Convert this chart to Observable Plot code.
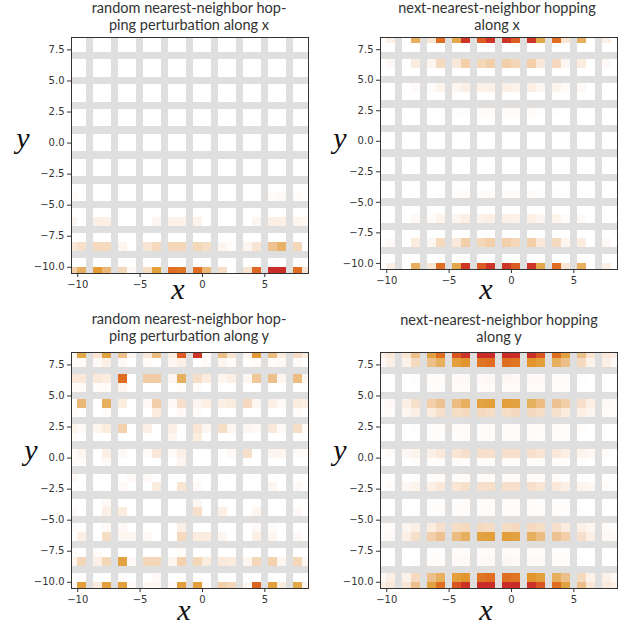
<!DOCTYPE html>
<html><head><meta charset="utf-8">
<script src="https://cdn.jsdelivr.net/npm/d3@7"></script>
<script src="https://cdn.jsdelivr.net/npm/@observablehq/plot@0.6"></script>
<style>
body{margin:0;background:#fff;}
#root{position:relative;width:639px;height:630px;overflow:hidden;background:#fff;}
.p{position:absolute;}
#over{position:absolute;left:0;top:0;}
</style></head>
<body><div id="root"></div>
<script>
// lattice block centres (each block holds 2x2 sub-sites)
const blockX = [-10, -8, -6, -4, -2, 0, 2, 4, 6, 8];
const blockY = [8, 6, 4, 2, 0, -2, -4, -6, -8, -10];
const xTicks = [-10, -5, 0, 5];
const yTicks = [-10, -7.5, -5, -2.5, 0, 2.5, 5, 7.5];

const titles = [
  ["random nearest-neighbor hop-", "ping perturbation along x"],
  ["next-nearest-neighbor hopping", "along x"],
  ["random nearest-neighbor hop-", "ping perturbation along y"],
  ["next-nearest-neighbor hopping", "along y"]
];

// values: 20 sub-rows (top to bottom) x 20 sub-columns (left to right)
const Z = [0,0,0,0,0,0,0,0,0,0,0,0,0,0,0,0,0,0,0,0];
const p1 = [
  Z, Z, Z, Z, Z, Z, Z, Z, Z, Z, Z, Z, Z,
  [0.02,0,0,0,0,0,0,0,0,0,0,0,0,0,0,0,0.02,0.03,0.02,0],
  Z,
  [0.05,0,0.08,0.08,0,0,0,0.04,0.07,0.07,0.07,0,0,0,0,0.05,0.08,0.08,0.06,0.04],
  Z,
  [0.12,0.18,0.22,0.22,0.05,0,0.15,0.22,0.25,0.25,0.25,0.2,0.05,0.02,0.05,0.15,0.38,0.48,0.25,0],
  Z,
  [0.3,0.5,0.62,0.45,0.25,0.03,0.2,0.6,0.75,0.73,0.75,0.45,0.2,0,0.15,0.77,0.95,0.95,0.75,0.15]
];
const p2 = [
  [0,0.08,0,0.5,0.15,0.75,0.55,0.92,0.8,0.92,0.92,0.8,0.92,0.55,0.75,0.15,0.5,0,0.08,0],
  Z,
  [0,0.03,0,0.1,0.05,0.22,0.12,0.3,0.25,0.3,0.3,0.25,0.3,0.12,0.22,0.05,0.1,0,0.03,0],
  Z,
  [0,0,0,0.03,0.02,0.06,0.05,0.08,0.07,0.08,0.08,0.07,0.08,0.05,0.06,0.02,0.03,0,0,0],
  Z,
  [0,0,0,0,0,0.01,0.01,0.02,0.02,0.02,0.02,0.02,0.02,0.01,0.01,0,0,0,0,0],
  Z, Z, Z, Z, Z, Z,
  [0,0,0,0,0,0.01,0.01,0.02,0.02,0.02,0.02,0.02,0.02,0.01,0.01,0,0,0,0,0],
  Z,
  [0,0,0,0.03,0.02,0.06,0.05,0.08,0.07,0.08,0.08,0.07,0.08,0.05,0.06,0.02,0.03,0,0,0],
  Z,
  [0,0.03,0,0.1,0.05,0.22,0.12,0.3,0.25,0.3,0.3,0.25,0.3,0.12,0.22,0.05,0.1,0,0.03,0],
  Z,
  [0,0.08,0,0.5,0.15,0.75,0.55,0.92,0.8,0.92,0.92,0.8,0.92,0.55,0.75,0.15,0.5,0,0.08,0]
];
const p3 = [
  [0.05,0.55,0.15,0.58,0.4,0.05,0.12,0.42,0.1,0.8,0.92,0.03,0.4,0.15,0.05,0.62,0.42,0.1,0.2,0.1],
  [0.02,0.02,0.03,0.08,0.03,0,0.02,0,0.04,0.08,0,0.02,0.05,0.02,0,0.02,0.02,0.03,0.02,0],
  [0.12,0.12,0.12,0.1,0.75,0,0.32,0.32,0.05,0.5,0.2,0.1,0.05,0.08,0.05,0.35,0.4,0.05,0.42,0.05],
  [0.02,0.02,0.02,0.02,0.05,0,0,0,0,0.02,0.02,0,0,0,0,0,0,0,0,0],
  [0,0.45,0,0.5,0.1,0,0.03,0.3,0.03,0.18,0.05,0.08,0.08,0.1,0.22,0.05,0.08,0.03,0.1,0.08],
  [0.02,0,0,0.02,0,0,0,0.1,0,0.03,0.02,0,0,0,0,0,0,0,0.02,0],
  [0.06,0.03,0.06,0.1,0.28,0,0.08,0,0.08,0,0.15,0.05,0.2,0.05,0.05,0.03,0.12,0.03,0.2,0.02],
  [0.02,0,0,0,0,0,0,0,0.05,0,0.1,0,0,0,0,0,0,0,0,0],
  [0.02,0.05,0,0.08,0.03,0,0.02,0.12,0.02,0.08,0,0,0,0.03,0.18,0,0.05,0.05,0.02,0.02],
  [0.02,0.02,0,0.03,0,0,0,0,0,0.05,0,0,0,0,0,0,0,0,0,0],
  [0.03,0,0,0,0,0.03,0.03,0,0,0,0,0,0,0,0,0,0,0,0,0],
  [0,0,0,0,0.03,0,0,0.1,0,0.15,0.03,0,0,0,0,0,0.05,0,0.03,0],
  [0,0,0,0.03,0,0,0,0,0,0,0.05,0,0,0,0,0,0,0,0,0],
  [0.03,0,0,0.08,0.1,0,0,0,0,0,0.18,0,0.08,0,0,0.05,0,0,0.03,0],
  [0.02,0,0,0.03,0.03,0,0,0,0,0.08,0,0,0,0,0,0.03,0.02,0,0,0],
  [0,0.08,0,0.2,0.05,0.05,0.03,0,0,0.22,0.1,0.1,0.05,0,0,0.08,0.05,0,0.03,0],
  [0.02,0,0.02,0,0,0,0,0,0,0.02,0,0,0,0,0,0,0,0,0,0],
  [0.05,0.25,0.08,0.25,0.58,0.03,0.25,0.25,0.05,0.28,0.25,0.1,0.12,0.1,0.05,0.25,0.28,0.05,0.25,0.05],
  [0,0,0,0,0.02,0,0,0.03,0,0,0,0,0,0,0,0,0,0,0,0],
  [0.03,0.6,0.1,0.6,0.6,0.03,0.05,0.05,0.03,0.6,0.6,0.03,0.3,0.25,0.05,0.78,0.6,0.1,0.55,0.05]
];
const p4 = [
  [0.08,0.12,0.15,0.4,0.58,0.75,0.82,0.93,0.95,0.95,0.95,0.95,0.93,0.82,0.75,0.58,0.4,0.15,0.12,0.08],
  [0.03,0.08,0.07,0.22,0.4,0.5,0.6,0.65,0.73,0.75,0.75,0.73,0.65,0.6,0.5,0.4,0.22,0.07,0.08,0.03],
  [0,0,0,0.01,0.02,0.02,0.03,0.03,0.03,0.04,0.04,0.03,0.03,0.03,0.02,0.02,0.01,0,0,0],
  [0,0,0,0,0.01,0.01,0.02,0.02,0.02,0.02,0.02,0.02,0.02,0.02,0.01,0.01,0,0,0,0],
  [0.02,0.03,0.08,0.18,0.3,0.38,0.42,0.5,0.58,0.6,0.6,0.58,0.5,0.42,0.38,0.3,0.18,0.08,0.03,0.02],
  [0.01,0.02,0.05,0.08,0.1,0.18,0.2,0.22,0.22,0.2,0.2,0.22,0.22,0.2,0.18,0.1,0.08,0.05,0.02,0.01],
  [0,0,0,0.01,0.01,0.02,0.02,0.02,0.02,0.02,0.02,0.02,0.02,0.02,0.02,0.01,0.01,0,0,0],
  [0,0,0,0,0.01,0.01,0.01,0.02,0.02,0.02,0.02,0.02,0.02,0.01,0.01,0.01,0,0,0,0],
  [0,0.02,0.04,0.06,0.08,0.12,0.15,0.18,0.18,0.18,0.18,0.18,0.18,0.15,0.12,0.08,0.06,0.04,0.02,0],
  [0,0,0,0.01,0.01,0.02,0.02,0.02,0.02,0.02,0.02,0.02,0.02,0.02,0.02,0.01,0.01,0,0,0],
  [0,0,0,0.01,0.01,0.02,0.02,0.02,0.02,0.02,0.02,0.02,0.02,0.02,0.02,0.01,0.01,0,0,0],
  [0,0.02,0.04,0.06,0.08,0.12,0.15,0.18,0.18,0.18,0.18,0.18,0.18,0.15,0.12,0.08,0.06,0.04,0.02,0],
  [0,0,0,0,0.01,0.01,0.01,0.02,0.02,0.02,0.02,0.02,0.02,0.01,0.01,0.01,0,0,0,0],
  [0,0,0,0.01,0.01,0.02,0.02,0.02,0.02,0.02,0.02,0.02,0.02,0.02,0.02,0.01,0.01,0,0,0],
  [0.01,0.02,0.05,0.08,0.1,0.18,0.2,0.22,0.22,0.2,0.2,0.22,0.22,0.2,0.18,0.1,0.08,0.05,0.02,0.01],
  [0.02,0.03,0.08,0.18,0.3,0.38,0.42,0.5,0.58,0.6,0.6,0.58,0.5,0.42,0.38,0.3,0.18,0.08,0.03,0.02],
  [0,0,0,0,0.01,0.01,0.02,0.02,0.02,0.02,0.02,0.02,0.02,0.02,0.01,0.01,0,0,0,0],
  [0,0,0,0.01,0.02,0.02,0.03,0.03,0.03,0.04,0.04,0.03,0.03,0.03,0.02,0.02,0.01,0,0,0],
  [0.03,0.08,0.07,0.22,0.4,0.5,0.6,0.65,0.73,0.75,0.75,0.73,0.65,0.6,0.5,0.4,0.22,0.07,0.08,0.03],
  [0.08,0.12,0.15,0.4,0.58,0.75,0.82,0.93,0.95,0.95,0.95,0.95,0.93,0.82,0.75,0.58,0.4,0.15,0.12,0.08]
];
const panels = [p1, p2, p3, p4];

// colour map stops
const cStops = [0, 0.1, 0.25, 0.4, 0.55, 0.65, 0.75, 0.85, 1];
const cColors = ["#ffffff", "#fbece0", "#f4d6b8", "#edbf8a", "#e4a84a", "#e1952c", "#df6e22", "#d64a25", "#c41e2a"];

// layout (frame positions in page pixels)
const frames = [
  {L: 71, T: 37, W: 237, H: 236},
  {L: 380, T: 37, W: 237, H: 232},
  {L: 71, T: 352, W: 237, H: 236},
  {L: 380, T: 352, W: 237, H: 236}
];
const titlePos = [
  {cx: 189, b1: 13, b2: 30},
  {cx: 497, b1: 13, b2: 30},
  {cx: 189, b1: 324, b2: 341},
  {cx: 499, b1: 325, b2: 342}
];
const xLabPos = [{x: 178, y: 299}, {x: 486, y: 299}, {x: 184, y: 620}, {x: 486, y: 620}];
const yLabPos = [{x: 23, y: 148}, {x: 340, y: 148}, {x: 31, y: 460}, {x: 340, y: 460}];

const lo = -10.5, hi = 8.5, cell = 0.7;
const ML = 45, MR = 6, MT = 4, MB = 26;
const root = document.getElementById("root");

panels.forEach((vals, i) => {
  const f = frames[i];
  const cells = [];
  vals.forEach((row, k) => row.forEach((v, m) => {
    const cx = blockX[Math.floor(m / 2)], cy = blockY[Math.floor(k / 2)];
    const x1 = cx - cell + cell * (m % 2), x2 = x1 + cell;
    const y2 = cy + cell - cell * (k % 2), y1 = y2 - cell;
    cells.push({x1: Math.max(x1, lo), x2: Math.min(x2, hi), y1: Math.max(y1, lo), y2: Math.min(y2, hi), v});
  }));
  const chart = Plot.plot({
    width: ML + f.W + MR, height: MT + f.H + MB,
    marginLeft: ML, marginRight: MR, marginTop: MT, marginBottom: MB,
    style: {fontFamily: "DejaVu Sans", fontSize: "10px", color: "#333", background: "transparent", overflow: "visible"},
    x: {domain: [lo, hi]},
    y: {domain: [lo, hi]},
    color: {type: "linear", domain: cStops, range: cColors, interpolate: "rgb", clamp: true},
    marks: [
      Plot.frame({fill: "#dfdfdf"}),
      Plot.rect(cells, {x1: "x1", x2: "x2", y1: "y1", y2: "y2", fill: "v", shapeRendering: "crispEdges"}),
      Plot.frame({stroke: "#333", strokeWidth: 1}),
      Plot.axisX({ticks: xTicks, tickSize: 4, tickPadding: 3, fontSize: 10, label: null, tickFormat: d3.format("d")}),
      Plot.axisY({ticks: yTicks, tickSize: 4, tickPadding: 3, fontSize: 10, label: null, tickFormat: d3.format(".1f")})
    ]
  });
  const div = document.createElement("div");
  div.className = "p";
  div.style.left = (f.L - ML) + "px";
  div.style.top = (f.T - MT) + "px";
  div.appendChild(chart);
  root.appendChild(div);
});

// overlay text: titles and axis labels
const svg = d3.select(root).append("svg").attr("id", "over").attr("width", 639).attr("height", 630);
titles.forEach((t, i) => {
  const p = titlePos[i];
  [p.b1, p.b2].forEach((b, j) => {
    svg.append("text").attr("x", p.cx).attr("y", b).attr("text-anchor", "middle")
      .attr("font-family", "Lato, sans-serif").attr("font-size", 14.5).attr("fill", "#333").text(t[j]);
  });
});
xLabPos.forEach(p => svg.append("text").attr("x", p.x).attr("y", p.y).attr("text-anchor", "middle")
  .attr("font-family", "Liberation Serif, serif").attr("font-style", "italic").attr("font-size", 30).attr("fill", "#111").text("x"));
yLabPos.forEach(p => svg.append("text").attr("x", p.x).attr("y", p.y).attr("text-anchor", "middle")
  .attr("font-family", "Liberation Serif, serif").attr("font-style", "italic").attr("font-size", 30).attr("fill", "#111").text("y"));
</script>
</body></html>
